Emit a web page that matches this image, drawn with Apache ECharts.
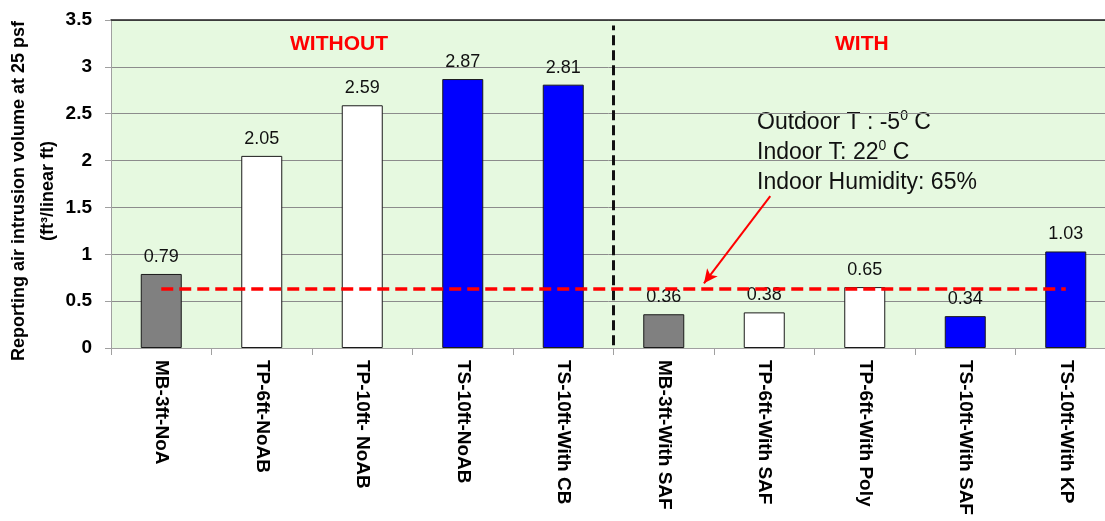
<!DOCTYPE html>
<html>
<head>
<meta charset="utf-8">
<script src="https://cdn.jsdelivr.net/npm/echarts@6/dist/echarts.min.js"></script>
<style>
  html, body { margin: 0; padding: 0; background: #fff; }
  #chart { width: 1105px; height: 521px; }
</style>
</head>
<body>
<div id="chart"></div>
<script>
// data
var categories = ['MB-3ft-NoA', 'TP-6ft-NoAB', 'TP-10ft- NoAB', 'TS-10ft-NoAB', 'TS-10ft-With CB',
  'MB-3ft-With SAF', 'TP-6ft-With SAF', 'TP-6ft-With Poly', 'TS-10ft-With SAF', 'TS-10ft-With KP'];
var values = [0.79, 2.05, 2.59, 2.87, 2.81, 0.36, 0.38, 0.65, 0.34, 1.03];
var barKinds = ['grey', 'white', 'white', 'blue', 'blue', 'grey', 'white', 'white', 'blue', 'blue'];
var yTicks = [0, 0.5, 1, 1.5, 2, 2.5, 3, 3.5];

// annotation values (data units: x = category index, y = value)
var thresholdValue = 0.63;
var thresholdFrom = 0, thresholdTo = 9;
var dividerX = 4.5;
var dividerRange = [0.03, 3.44];
var arrowFrom = [6.06, 1.62];
var arrowTo = [5.40, 0.69];

var kindColor = { grey: '#808080', white: '#ffffff', blue: '#0000ff' };
var FONT = '"Liberation Sans", Arial, sans-serif';

var chart = echarts.init(document.getElementById('chart'));

var option = {
  backgroundColor: '#ffffff',
  animation: false,
  grid: {
    left: 111,
    top: 20,
    width: 1005,
    height: 328,
    show: true,
    backgroundColor: '#e6f9e0',
    borderWidth: 0,
    containLabel: false,
    outerBoundsMode: 'none'
  },
  xAxis: [
    {
      type: 'category',
      data: categories,
      axisLine: { lineStyle: { color: '#a0a0a0', width: 1 } },
      axisTick: { show: true, length: 7, lineStyle: { color: '#a0a0a0' } },
      axisLabel: {
        rotate: -90,
        margin: 12,
        color: '#000',
        fontFamily: FONT,
        fontWeight: 'bold',
        fontSize: 19
      },
      splitLine: { show: false }
    },
    {
      type: 'value',
      min: -0.5,
      max: 9.5,
      position: 'top',
      axisLine: { show: true, onZero: false, lineStyle: { color: '#222', width: 1.5 } },
      axisTick: { show: false },
      axisLabel: { show: false },
      splitLine: { show: false }
    }
  ],
  yAxis: {
    type: 'value',
    min: yTicks[0],
    max: yTicks[yTicks.length - 1],
    interval: 0.5,
    name: 'Reporting air intrusion volume at 25 psf\n(ft³/linear ft)',
    nameLocation: 'middle',
    nameGap: 48,
    nameMoveOverlap: false,
    nameTextStyle: {
      color: '#000',
      fontFamily: FONT,
      fontWeight: 'bold',
      fontSize: 18,
      lineHeight: 29,
      padding: [0, 14, 0, 0]
    },
    axisLine: { show: true, onZero: false, lineStyle: { color: '#a0a0a0' } },
    axisTick: { show: true, length: 6, lineStyle: { color: '#a0a0a0' } },
    axisLabel: {
      margin: 19,
      color: '#000',
      fontFamily: FONT,
      fontWeight: 'bold',
      fontSize: 19
    },
    splitLine: { show: true, lineStyle: { color: '#8c8c8c', width: 1 } }
  },
  graphic: [
    {
      type: 'text',
      left: 290,
      top: 34,
      style: { text: 'WITHOUT', fill: '#ff0000', font: 'bold 21px ' + FONT }
    },
    {
      type: 'text',
      left: 835,
      top: 34,
      style: { text: 'WITH', fill: '#ff0000', font: 'bold 21px ' + FONT }
    },
    {
      type: 'text',
      left: 757,
      top: 108,
      style: {
        text: '{a|Outdoor T : -5}{s|0}{a| C}\n{a|Indoor T: 22}{s|0}{a| C}\n{a|Indoor Humidity: 65%}',
        fill: '#111',
        rich: {
          a: { fontFamily: FONT, fontSize: 23, lineHeight: 30, fill: '#111' },
          s: { fontFamily: FONT, fontSize: 14, lineHeight: 30, verticalAlign: 'top', padding: [1, 0, 0, 0], fill: '#111' }
        }
      }
    }
  ],
  series: [
    {
      type: 'bar',
      barWidth: 41,
      data: values.map(function (v, i) {
        return {
          value: v,
          itemStyle: { color: kindColor[barKinds[i]], borderColor: '#1a1a1a', borderWidth: 1 }
        };
      }),
      label: {
        show: true,
        position: 'top',
        distance: 8,
        color: '#111',
        fontFamily: FONT,
        fontSize: 18,
        formatter: function (p) { return p.value.toFixed(2); }
      },
      z: 2
    },
    {
      // divider between the WITHOUT / WITH groups
      type: 'line',
      xAxisIndex: 1,
      symbol: 'none',
      silent: true,
      data: [[dividerX, dividerRange[0]], [dividerX, dividerRange[1]]],
      lineStyle: { color: '#111', width: 3, type: [10, 5] },
      z: 3
    },
    {
      // threshold line + arrow
      type: 'line',
      xAxisIndex: 1,
      symbol: 'none',
      silent: true,
      data: [[thresholdFrom, thresholdValue], [thresholdTo, thresholdValue]],
      lineStyle: { color: '#ff0000', width: 3.5, type: [12, 6] },
      markLine: {
        silent: true,
        symbol: ['none', 'arrow'],
        symbolSize: [10, 14],
        label: { show: false },
        lineStyle: { color: '#ff0000', width: 2, type: 'solid' },
        data: [[{ coord: arrowFrom }, { coord: arrowTo }]]
      },
      z: 4
    }
  ]
};

chart.setOption(option);
</script>
</body>
</html>
